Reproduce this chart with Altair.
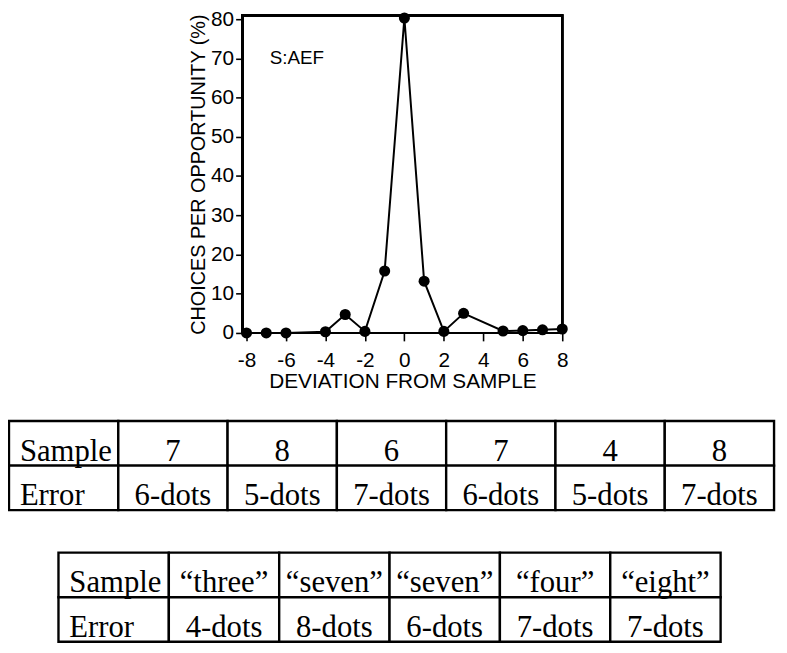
import altair as alt
import pandas as pd

# ---- plot data ----
deviation = [-8, -7, -6, -4, -3, -2, -1, 0, 1, 2, 3, 5, 6, 7, 8]
choices = [0.0, 0.0, 0.0, 0.3, 4.7, 0.4, 15.8, 80.3, 13.2, 0.4, 5.0, 0.5, 0.6, 0.8, 1.0]
x_ticks = [-8, -6, -4, -2, 0, 2, 4, 6, 8]
y_ticks = [0, 10, 20, 30, 40, 50, 60, 70, 80]
x_domain = [-8.2, 8.0]
y_domain = [0, 81]
panel_label = ["S:AEF"]
panel_label_x = [-5.45]
panel_label_y = [70.2]

# ---- table data ----
row_headers = ["Sample", "Error"]
table1_sample = ["7", "8", "6", "7", "4", "8"]
table1_error = ["6-dots", "5-dots", "7-dots", "6-dots", "5-dots", "7-dots"]
table2_sample = ["\u201cthree\u201d", "\u201cseven\u201d", "\u201cseven\u201d", "\u201cfour\u201d", "\u201ceight\u201d"]
table2_error = ["4-dots", "8-dots", "6-dots", "7-dots", "7-dots"]

W, H = 779, 640
SANS = "Liberation Sans"
SERIF = "Liberation Serif"

# plot region in chart pixels
PX = [237, 560]
PY = [325, 4]

df = pd.DataFrame({"dev": deviation, "pct": choices})
lab = pd.DataFrame({"x": panel_label_x, "y": panel_label_y, "t": panel_label})

xs = alt.Scale(domain=x_domain, range=PX, nice=False, zero=False)
ys = alt.Scale(domain=y_domain, range=PY, nice=False, zero=False)

x_axis = alt.Axis(
    orient="bottom", offset=-(H - PY[0]), values=x_ticks, domain=False, grid=False,
    tickSize=8, tickWidth=1.6, tickColor="black", labelFont=SANS, labelFontSize=21,
    labelColor="black", labelPadding=9, labelExpr="'' + datum.value",
    title="DEVIATION FROM SAMPLE",
    titleFont=SANS, titleFontSize=21, titleFontWeight="normal", titleColor="black",
    titlePadding=0, labelFlush=False, labelOverlap=False,
)
y_axis = alt.Axis(
    orient="left", offset=-PX[0], values=y_ticks, domain=False, grid=False,
    tickSize=7, tickWidth=1.6, tickColor="black", labelFont=SANS, labelFontSize=21,
    labelColor="black", labelPadding=2, labelExpr="'' + datum.value",
    title="CHOICES PER OPPORTUNITY (%)",
    titleFont=SANS, titleFontSize=20, titleFontWeight="normal", titleColor="black",
    titlePadding=2, labelFlush=False, labelOverlap=False,
)

base = alt.Chart(df)
frame = base.mark_rect(fill=None, stroke="black", strokeWidth=1.8).encode(
    x=alt.datum(x_domain[0], scale=xs, axis=x_axis, type="quantitative"),
    x2=alt.datum(x_domain[1]),
    y=alt.datum(y_domain[0], scale=ys, axis=y_axis, type="quantitative"),
    y2=alt.datum(y_domain[1]),
)
line = base.mark_line(color="black", strokeWidth=2).encode(
    x=alt.X("dev:Q", scale=xs, axis=x_axis),
    y=alt.Y("pct:Q", scale=ys, axis=y_axis),
)
pts = base.mark_circle(color="black", size=125, opacity=1).encode(
    x=alt.X("dev:Q", scale=xs, axis=x_axis),
    y=alt.Y("pct:Q", scale=ys, axis=y_axis),
)
label = alt.Chart(lab).mark_text(font=SANS, fontSize=19, color="black", align="center", baseline="middle").encode(
    x=alt.X("x:Q", scale=xs, axis=x_axis), y=alt.Y("y:Q", scale=ys, axis=y_axis), text="t:N"
)
plot = alt.layer(frame, line, pts, label)


def table_layer(samples, errors, x_range, y_range):
    n = len(samples) + 1
    rows = []
    for r, (hdr, vals) in enumerate(zip(row_headers, [samples, errors])):
        rows.append({"c0": 0, "c1": 1, "r0": r, "r1": r + 1, "xc": 0, "ty": r + 0.89, "t": hdr, "h": 1})
        for i, v in enumerate(vals):
            c = i + 1
            rows.append({"c0": c, "c1": c + 1, "r0": r, "r1": r + 1, "xc": c + 0.5, "ty": r + 0.89, "t": v, "h": 0})
    tdf = pd.DataFrame(rows)
    txs = alt.Scale(domain=[0, n], range=x_range, nice=False, zero=False)
    tys = alt.Scale(domain=[0, 2], range=y_range, nice=False, zero=False)
    tb = alt.Chart(tdf)
    cells = tb.mark_rect(fill="white", stroke="black", strokeWidth=2.4).encode(
        x=alt.X("c0:Q", scale=txs, axis=None), x2="c1:Q",
        y=alt.Y("r0:Q", scale=tys, axis=None), y2="r1:Q",
    )
    hdr_text = tb.transform_filter("datum.h == 1").mark_text(
        font=SERIF, fontSize=31, color="black", align="left", baseline="alphabetic", dx=11
    ).encode(x=alt.X("xc:Q", scale=txs, axis=None), y=alt.Y("ty:Q", scale=tys, axis=None), text="t:N")
    val_text = tb.transform_filter("datum.h == 0").mark_text(
        font=SERIF, fontSize=31, color="black", align="center", baseline="alphabetic"
    ).encode(x=alt.X("xc:Q", scale=txs, axis=None), y=alt.Y("ty:Q", scale=tys, axis=None), text="t:N")
    return alt.layer(cells, hdr_text, val_text)


t1 = table_layer(table1_sample, table1_error, [1, 774], [414, 504])
t2 = table_layer(table2_sample, table2_error, [51, 720], [547, 637])

chart = (
    alt.layer(plot, t1, t2)
    .resolve_scale(x="independent", y="independent")
    .properties(width=W, height=H, autosize="none", padding=0)
    .configure_view(stroke=None)
)

chart.save("out.html", embed_options={"renderer": "svg", "actions": False})
